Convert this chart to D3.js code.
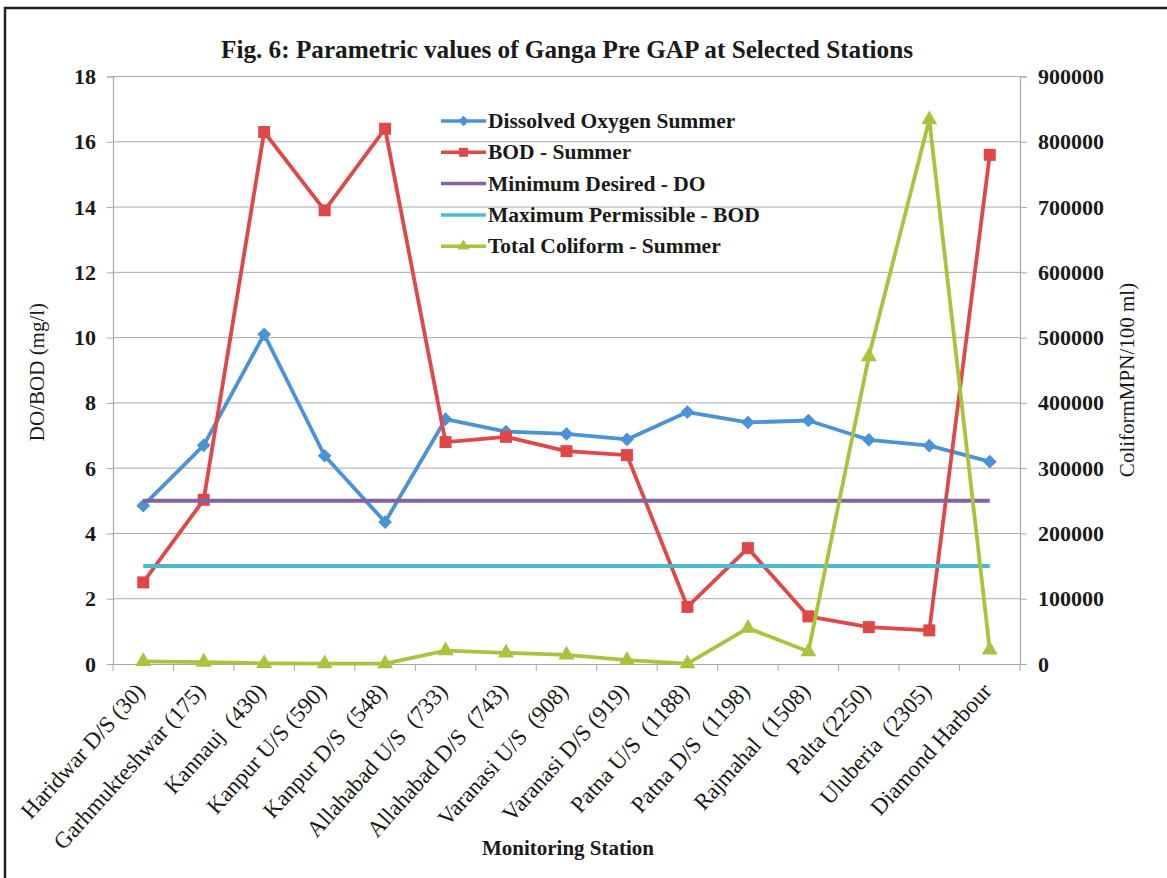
<!DOCTYPE html>
<html>
<head>
<meta charset="utf-8">
<script src="https://cdn.jsdelivr.net/npm/d3@7"></script>
<style>
  html, body { margin: 0; padding: 0; background: #fff; }
  svg { display: block; font-family: "Liberation Serif", "Times New Roman", serif; }
  .cat-label { white-space: pre; }
</style>
</head>
<body>
<svg id="chart" width="1167" height="878"></svg>
<script>
// Monitoring stations along the Ganga (distance in km in brackets)
const stations = [
  "Haridwar D/S (30)", "Garhmukteshwar (175)", "Kannauj  (430)", "Kanpur U/S (590)",
  "Kanpur D/S  (548)", "Allahabad U/S  (733)", "Allahabad D/S  (743)", "Varanasi U/S  (908)",
  "Varanasi D/S (919)", "Patna U/S  (1188)", "Patna D/S  (1198)", "Rajmahal  (1508)",
  "Palta (2250)", "Uluberia  (2305)", "Diamond Harbour"
];

// Summer values, mg/l
const doSummer  = [4.85, 6.7, 10.1, 6.38, 4.35, 7.5, 7.12, 7.05, 6.88, 7.72, 7.4, 7.46, 6.87, 6.69, 6.2];
const bodSummer = [2.5, 5.03, 16.3, 13.9, 16.4, 6.8, 6.96, 6.52, 6.4, 1.75, 3.55, 1.46, 1.13, 1.03, 15.6];

// Standards, mg/l
const minDesiredDO = 5;
const maxPermissibleBOD = 3;

// Total coliform, MPN/100 ml
const coliformSummer = [4000, 3000, 1000, 500, 500, 20500, 17000, 14000, 6000, 500, 55000, 19000, 471000, 834000, 21500];

// Axis ticks
const leftTicks  = [0, 2, 4, 6, 8, 10, 12, 14, 16, 18];
const rightTicks = [0, 100000, 200000, 300000, 400000, 500000, 600000, 700000, 800000, 900000];

const colors = {
  do: "#4A93D6",
  bod: "#E04848",
  minDO: "#8064A2",
  maxBOD: "#4BB9D2",
  coliform: "#A8C43E"
};

const svg = d3.select("#chart");
const W = 1167, H = 878;
const plot = { left: 113, right: 1020, top: 76.5, bottom: 664 };
const ink = "#1a1a1a";
const gridColor = "#a9a9a9";

svg.append("rect").attr("width", W).attr("height", H).attr("fill", "#fff");

// outer frame
svg.append("rect")
  .attr("x", 5).attr("y", 8).attr("width", W + 20).attr("height", H + 20)
  .attr("fill", "none").attr("stroke", "#222").attr("stroke-width", 2.5);

const x = d3.scaleBand().domain(stations).range([plot.left, plot.right]).padding(0);
const cx = d => x(d) + x.bandwidth() / 2;
const yL = d3.scaleLinear().domain([0, 18]).range([plot.bottom, plot.top]);
const yR = d3.scaleLinear().domain([0, 900000]).range([plot.bottom, plot.top]);

// horizontal gridlines
svg.append("g").selectAll("line").data(leftTicks.filter(t => t > 0)).join("line")
  .attr("x1", plot.left).attr("x2", plot.right)
  .attr("y1", d => yL(d)).attr("y2", d => yL(d))
  .attr("stroke", gridColor).attr("stroke-width", 1);

// left axis
const gL = svg.append("g").attr("transform", `translate(${plot.left},0)`)
  .call(d3.axisLeft(yL).tickValues(leftTicks).tickSize(6).tickPadding(11).tickFormat(d3.format("d")));
// right axis
const gR = svg.append("g").attr("transform", `translate(${plot.right},0)`)
  .call(d3.axisRight(yR).tickValues(rightTicks).tickSize(7).tickPadding(11).tickFormat(d3.format("d")));
// bottom axis: ticks between categories
const gB = svg.append("g").attr("transform", `translate(0,${plot.bottom})`)
  .call(d3.axisBottom(x).tickSize(0).tickPadding(0).tickFormat(""));
gB.selectAll(".tick").remove();
gB.selectAll("line.sep").data(d3.range(stations.length + 1)).join("line")
  .attr("class", "sep")
  .attr("x1", i => plot.left + i * x.bandwidth()).attr("x2", i => plot.left + i * x.bandwidth())
  .attr("y1", 0).attr("y2", 7)
  .attr("stroke", gridColor).attr("stroke-width", 1);

[gL, gR, gB].forEach(g => {
  g.select(".domain").attr("stroke", gridColor).attr("stroke-width", 1.2);
  g.selectAll(".tick line").attr("stroke", gridColor);
});
[gL, gR].forEach(g => {
  g.selectAll(".tick text")
    .attr("font-family", "Liberation Serif, serif")
    .attr("font-size", 22).attr("font-weight", "bold").attr("fill", ink);
});

// category labels, rotated
svg.append("g").selectAll("text").data(stations).join("text")
  .attr("class", "cat-label")
  .attr("transform", d => `translate(${cx(d) + 3},${plot.bottom + 28}) rotate(-48)`)
  .attr("text-anchor", "end")
  .attr("font-size", 23).attr("fill", ink)
  .text(d => d);

// line generators
const lineL = d3.line().x((d, i) => cx(stations[i])).y(d => yL(d));
const lineR = d3.line().x((d, i) => cx(stations[i])).y(d => yR(d));

const series = svg.append("g");

// Dissolved oxygen
series.append("path").datum(doSummer).attr("d", lineL)
  .attr("fill", "none").attr("stroke", colors.do).attr("stroke-width", 3.8).attr("stroke-linejoin", "round");
series.append("g").selectAll("path").data(doSummer).join("path")
  .attr("d", d3.symbol(d3.symbolDiamond2, 120))
  .attr("transform", (d, i) => `translate(${cx(stations[i])},${yL(d)})`)
  .attr("fill", colors.do);

// BOD
series.append("path").datum(bodSummer).attr("d", lineL)
  .attr("fill", "none").attr("stroke", colors.bod).attr("stroke-width", 3.8).attr("stroke-linejoin", "round");
series.append("g").selectAll("rect").data(bodSummer).join("rect")
  .attr("x", (d, i) => cx(stations[i]) - 6).attr("y", d => yL(d) - 6)
  .attr("width", 12).attr("height", 12)
  .attr("fill", colors.bod);

// standards
series.append("path").datum(stations.map(() => minDesiredDO)).attr("d", lineL)
  .attr("fill", "none").attr("stroke", colors.minDO).attr("stroke-width", 4);
series.append("path").datum(stations.map(() => maxPermissibleBOD)).attr("d", lineL)
  .attr("fill", "none").attr("stroke", colors.maxBOD).attr("stroke-width", 4);

// Total coliform on the secondary axis
series.append("path").datum(coliformSummer).attr("d", lineR)
  .attr("fill", "none").attr("stroke", colors.coliform).attr("stroke-width", 3.8).attr("stroke-linejoin", "round");
series.append("g").selectAll("path").data(coliformSummer).join("path")
  .attr("d", d3.symbol(d3.symbolTriangle, 110))
  .attr("transform", (d, i) => `translate(${cx(stations[i])},${yR(d)})`)
  .attr("fill", colors.coliform);

// legend
const legendItems = [
  { label: "Dissolved Oxygen Summer", color: colors.do, mark: "diamond" },
  { label: "BOD - Summer", color: colors.bod, mark: "square" },
  { label: "Minimum Desired - DO", color: colors.minDO, mark: null },
  { label: "Maximum Permissible - BOD", color: colors.maxBOD, mark: null },
  { label: "Total Coliform - Summer", color: colors.coliform, mark: "triangle" }
];
const legend = svg.append("g");
legendItems.forEach((it, i) => {
  const yy = 121 + i * 31.3;
  const g = legend.append("g").attr("transform", `translate(0,${yy})`);
  g.append("line").attr("x1", 441).attr("x2", 486).attr("y1", 0).attr("y2", 0)
    .attr("stroke", it.color).attr("stroke-width", 3.5);
  if (it.mark === "diamond") {
    g.append("path").attr("d", d3.symbol(d3.symbolDiamond2, 70)).attr("transform", "translate(463.5,0)").attr("fill", it.color);
  } else if (it.mark === "square") {
    g.append("rect").attr("x", 459).attr("y", -4.5).attr("width", 9).attr("height", 9).attr("fill", it.color);
  } else if (it.mark === "triangle") {
    g.append("path").attr("d", d3.symbol(d3.symbolTriangle, 60)).attr("transform", "translate(463.5,0)").attr("fill", it.color);
  }
  g.append("text").attr("x", 488).attr("y", 7)
    .attr("font-size", 21.5).attr("font-weight", "bold").attr("fill", ink)
    .text(it.label);
});

// title
svg.append("text")
  .attr("x", 567).attr("y", 58).attr("text-anchor", "middle")
  .attr("font-size", 25).attr("font-weight", "bold").attr("fill", ink)
  .attr("textLength", 692).attr("lengthAdjust", "spacingAndGlyphs")
  .text("Fig. 6: Parametric values of Ganga Pre GAP at Selected Stations");

// axis titles
svg.append("text")
  .attr("transform", "translate(44,372) rotate(-90)").attr("text-anchor", "middle")
  .attr("font-size", 21).attr("fill", ink)
  .text("DO/BOD (mg/l)");
svg.append("text")
  .attr("transform", "translate(1134,380) rotate(-90)").attr("text-anchor", "middle")
  .attr("font-size", 21).attr("fill", ink)
  .text("ColiformMPN/100 ml)");
svg.append("text")
  .attr("x", 568).attr("y", 855).attr("text-anchor", "middle")
  .attr("font-size", 21).attr("font-weight", "bold").attr("fill", ink)
  .text("Monitoring Station");
</script>
</body>
</html>
